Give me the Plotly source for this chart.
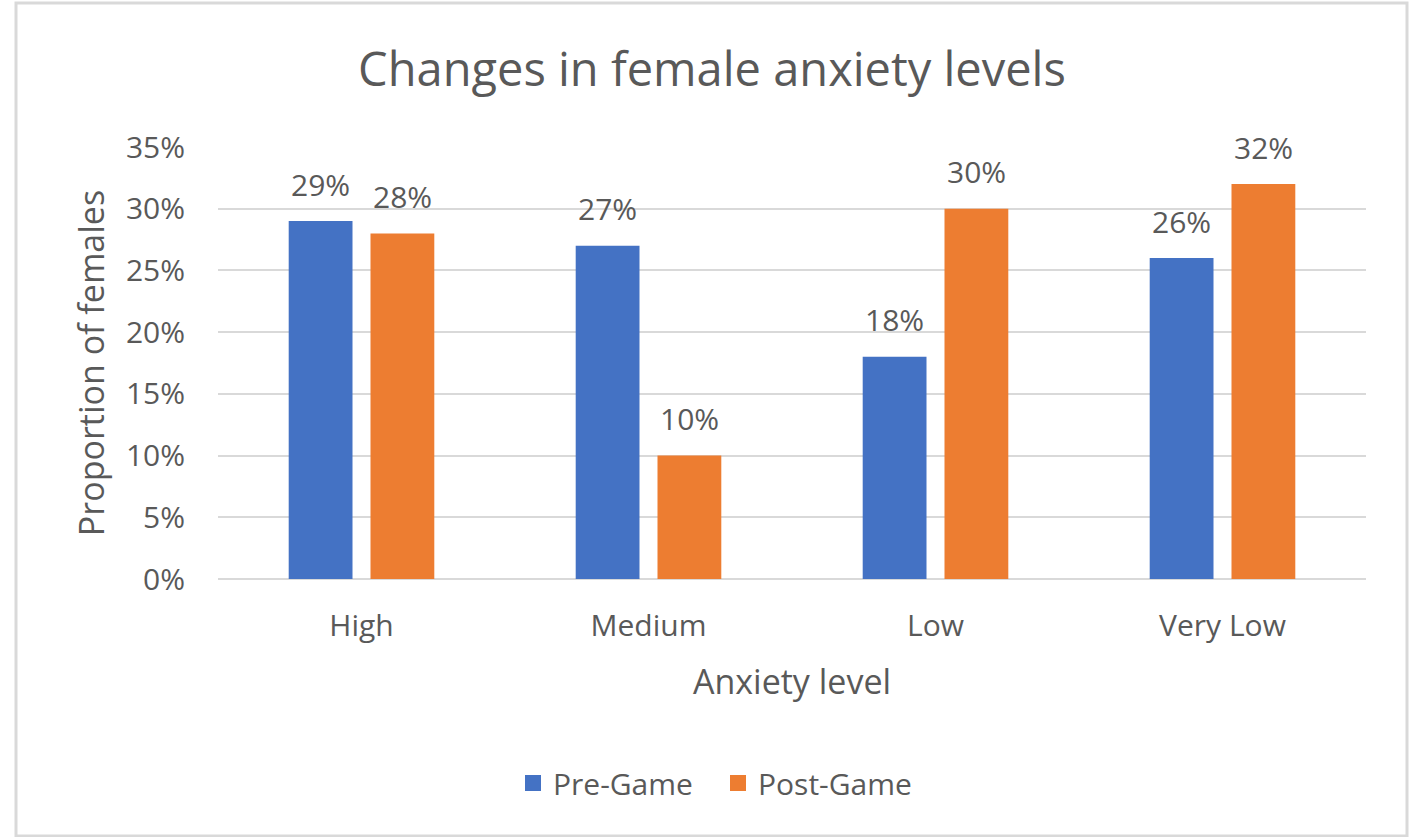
import plotly.graph_objects as go

# Anxiety categories and proportions of females in each, before and after the game
categories = ["High", "Medium", "Low", "Very Low"]
pre_game = [0.29, 0.27, 0.18, 0.26]
post_game = [0.28, 0.10, 0.30, 0.32]
y_ticks = [0, 0.05, 0.10, 0.15, 0.20, 0.25, 0.30, 0.35]
y_tick_labels = ["0%", "5%", "10%", "15%", "20%", "25%", "30%", "35%"]

BLUE = "#4472C4"
ORANGE = "#ED7D31"
TEXT = "#595959"
GRID = "#D9D9D9"
FONT = "Open Sans"

W, H = 1415, 837
M_L, M_R, M_T, M_B = 218, 49, 147, 258
plot_w = W - M_L - M_R
plot_h = H - M_T - M_B

BARGAP = 0.43
BARGROUPGAP = 0.22

fig = go.Figure()
for name, vals, color in [("Pre-Game", pre_game, BLUE), ("Post-Game", post_game, ORANGE)]:
    fig.add_trace(go.Bar(
        x=categories, y=vals, name=name, marker=dict(color=color, line=dict(width=0)),
        showlegend=False, hoverinfo="x+y",
    ))
    # legend entry with a larger square swatch
    fig.add_trace(go.Scatter(
        x=[None], y=[None], mode="markers", name=name,
        marker=dict(symbol="square", size=19, color=color),
    ))

# value labels above each bar, shifted to the bar's slot within its group
cat_w = plot_w / len(categories)
slot_w = cat_w * (1 - BARGAP) / 2
for vals, sign in [(pre_game, -1), (post_game, 1)]:
    for c, v in zip(categories, vals):
        fig.add_annotation(
            x=c, y=v, text=f"{round(v * 100)}%", showarrow=False,
            xshift=sign * slot_w / 2, yshift=37, yanchor="middle",
            font=dict(family=FONT, size=30, color=TEXT),
        )

# light grey frame around the chart
x0 = (16 - M_L) / plot_w
x1 = (1407 - M_L) / plot_w
y1 = (H - M_B - 3) / plot_h
y0 = (H - M_B - 836) / plot_h
fig.add_shape(type="rect", xref="paper", yref="paper", x0=x0, x1=x1, y0=y0, y1=y1,
              line=dict(color=GRID, width=3), fillcolor="rgba(0,0,0,0)", layer="below")

fig.update_layout(
    width=W, height=H,
    margin=dict(l=M_L, r=M_R, t=M_T, b=M_B, autoexpand=False),
    paper_bgcolor="white", plot_bgcolor="white",
    barmode="group", bargap=BARGAP, bargroupgap=BARGROUPGAP,
    font=dict(family=FONT, color=TEXT, size=30),
    title=dict(text="Changes in female anxiety levels", x=712 / W, xref="container",
               xanchor="center",
               y=1 - 70 / H, yref="container", yanchor="middle",
               font=dict(family=FONT, size=47, color=TEXT)),
    legend=dict(orientation="h", x=718 / W, xanchor="center", xref="container",
                y=1 - 783 / H, yanchor="middle", yref="container",
                font=dict(family=FONT, size=30, color=TEXT), itemwidth=30,
                entrywidth=160, entrywidthmode="pixels"),
    xaxis=dict(showgrid=False, showline=False, zeroline=False, ticks="",
               ticklabelstandoff=26,
               tickfont=dict(family=FONT, size=30, color=TEXT),
               title=dict(text="Anxiety level", standoff=26,
                          font=dict(family=FONT, size=34, color=TEXT))),
    yaxis=dict(range=[0, 0.35], tickvals=y_ticks, ticktext=y_tick_labels,
               showgrid=True, gridcolor=GRID, gridwidth=2, zeroline=True,
               zerolinecolor=GRID, zerolinewidth=2, showline=False, ticks="",
               ticklabelstandoff=32,
               tickfont=dict(family=FONT, size=30, color=TEXT),
               title=dict(text="Proportion of females", standoff=10,
                          font=dict(family=FONT, size=34, color=TEXT))),
)

fig.write_html("out.html")
